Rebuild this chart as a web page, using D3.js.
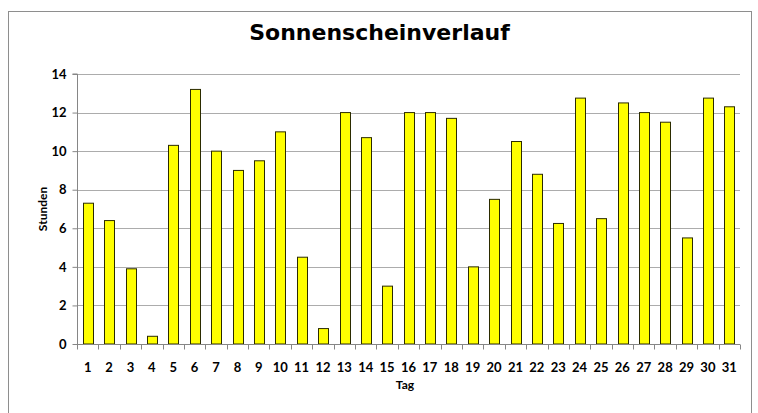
<!DOCTYPE html>
<html><head><meta charset="utf-8">
<script src="https://cdn.jsdelivr.net/npm/d3@7"></script>
<style>
body{margin:0;background:#fff;}
svg{display:block;}
</style></head>
<body>
<svg id="chart" width="758" height="413"></svg>
<script>
const days = d3.range(1, 32).map(String);
const hours = [7.3, 6.4, 3.9, 0.4, 10.3, 13.2, 10, 9, 9.5, 11, 4.5, 0.8, 12, 10.7, 3, 12, 12, 11.7, 4, 7.5, 10.5, 8.8, 6.25, 12.75, 6.5, 12.5, 12, 11.5, 5.5, 12.75, 12.3];
const yTicks = [0, 2, 4, 6, 8, 10, 12, 14];
const titleText = "Sonnenscheinverlauf";
const xTitle = "Tag";
const yTitle = "Stunden";

const svg = d3.select("#chart");
const W = 758, H = 413;
const m = {left: 77, right: 758 - 740, top: 74, bottom: 413 - 344};
const iw = W - m.left - m.right, ih = H - m.top - m.bottom;

svg.append("rect").attr("x", 8.5).attr("y", 11.5).attr("width", 743).attr("height", 420)
  .attr("fill", "#fff").attr("stroke", "#8e8e8e").attr("stroke-width", 1);

const x = d3.scaleBand().domain(days).range([m.left, m.left + iw]).paddingInner(0.55).paddingOuter(0.275);
const xb = d3.scaleBand().domain(days).range([m.left, m.left + iw]);
const y = d3.scaleLinear().domain([0, 14]).range([m.top + ih, m.top]);

const g = svg.append("g");
g.selectAll("line.grid").data(yTicks.filter(d => d > 0)).join("line")
  .attr("x1", m.left).attr("x2", m.left + iw)
  .attr("y1", d => Math.round(y(d)) + 0.5).attr("y2", d => Math.round(y(d)) + 0.5)
  .attr("stroke", "#acacac").attr("stroke-width", 1);

g.selectAll("rect.bar").data(hours).join("rect")
  .attr("x", (d, i) => Math.round(x(days[i])) + 0.5)
  .attr("y", d => y(d))
  .attr("width", Math.round(x.bandwidth()))
  .attr("height", d => y(0) - y(d))
  .attr("fill", "#ffff00").attr("stroke", "#2b2b00").attr("stroke-width", 1);

const yAxis = d3.axisLeft(y).tickValues(yTicks).tickSize(5).tickPadding(6).tickFormat(d3.format("d"));
const ya = svg.append("g").attr("transform", `translate(${m.left + 0.5},0)`).call(yAxis);
ya.select(".domain").attr("stroke", "#868686").attr("d", `M-5,${y(14)}H0V${y(0)}`);
ya.selectAll(".tick line").attr("stroke", "#868686");
ya.selectAll(".tick text").attr("font-family", "Lato, 'Open Sans', sans-serif").attr("font-weight", "bold")
  .attr("font-size", "13px").attr("fill", "#000");

const xa = svg.append("g").attr("transform", `translate(0,${Math.round(y(0)) + 0.5})`);
xa.append("line").attr("x1", m.left).attr("x2", m.left + iw).attr("stroke", "#868686");
xa.selectAll("line.tk").data(d3.range(0, 32)).join("line")
  .attr("x1", i => Math.round(m.left + i * xb.step()) + 0.5).attr("x2", i => Math.round(m.left + i * xb.step()) + 0.5)
  .attr("y1", 0).attr("y2", 5).attr("stroke", "#868686");
xa.selectAll("text").data(days).join("text")
  .attr("x", d => xb(d) + xb.bandwidth() / 2).attr("y", 27.5)
  .attr("text-anchor", "middle")
  .attr("font-family", "Lato, 'Open Sans', sans-serif").attr("font-weight", "bold")
  .attr("font-size", "13px").attr("fill", "#000").text(d => d);

svg.append("text").attr("x", 379.5).attr("y", 40).attr("text-anchor", "middle")
  .attr("font-family", "'DejaVu Sans', Verdana, sans-serif").attr("font-weight", "bold")
  .attr("font-size", "22px").attr("fill", "#000").text(titleText);
svg.append("text").attr("x", 405).attr("y", 389).attr("text-anchor", "middle")
  .attr("font-family", "Lato, 'Open Sans', sans-serif").attr("font-weight", "bold")
  .attr("font-size", "12px").attr("fill", "#000").text(xTitle);
svg.append("text").attr("transform", `translate(47,${m.top + ih / 2}) rotate(-90)`).attr("text-anchor", "middle")
  .attr("font-family", "Lato, 'Open Sans', sans-serif").attr("font-weight", "bold")
  .attr("font-size", "12px").attr("fill", "#000").text(yTitle);
</script>
</body></html>
